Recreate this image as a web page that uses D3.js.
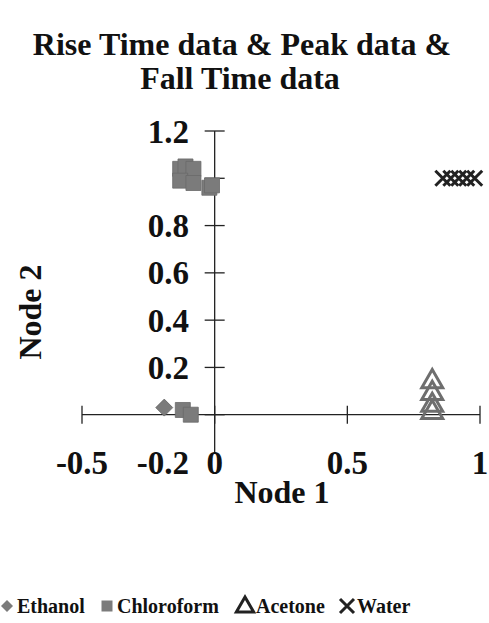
<!DOCTYPE html>
<html>
<head>
<meta charset="utf-8">
<script src="https://cdn.jsdelivr.net/npm/d3@7"></script>
<style>
  html, body { margin: 0; padding: 0; background: #fff; }
  svg { display: block; }
  text { font-family: "Liberation Serif", "Times New Roman", serif; font-weight: bold; fill: #111; }
</style>
</head>
<body>
<svg id="chart" width="489" height="623"></svg>
<script>
// Scatter of node outputs for each solvent (Node 1 vs Node 2)
const ethanolX = [-0.19];
const ethanolY = [0.03];
const chloroformX = [-0.13, -0.11, -0.08, -0.13, -0.08, -0.02, -0.01, -0.12, -0.09];
const chloroformY = [1.04, 1.05, 1.04, 0.99, 0.98, 0.96, 0.97, 0.02, 0.0];
const acetoneX = [0.82, 0.82, 0.82, 0.82];
const acetoneY = [0.14, 0.09, 0.04, 0.01];
const waterX = [0.86, 0.89, 0.92, 0.95, 0.98];
const waterY = [1.0, 1.0, 1.0, 1.0, 1.0];

const xTicks = [-0.5, 0, 0.5, 1];
const xTickLabels = ["-0.5", "0", "0.5", "1"];
const yTicks = [-0.2, 0, 0.2, 0.4, 0.6, 0.8, 1.0, 1.2];
const yTickLabels = ["-0.2", "", "0.2", "0.4", "0.6", "0.8", "", "1.2"];
const seriesNames = ["Ethanol", "Chloroform", "Acetone", "Water"];

const svg = d3.select("#chart");
const x = d3.scaleLinear().domain([-0.5, 1]).range([82, 480]);
const y = d3.scaleLinear().domain([-0.2, 1.2]).range([462, 131]);
const markColor = "#7b7b7b";

// Marker shapes
const diamondPath = s => `M0,${-s}L${s},0L0,${s}L${-s},0Z`;
const squarePath = s => `M${-s},${-s}H${s}V${s}H${-s}Z`;
const crossPath = s => `M${-s},${-s}L${s},${s}M${-s},${s}L${s},${-s}`;

// Title
const title = svg.append("text").attr("text-anchor", "middle").attr("font-size", 32);
title.append("tspan").attr("x", 242).attr("y", 55).text("Rise Time data & Peak data &");
title.append("tspan").attr("x", 240).attr("y", 89).text("Fall Time data");

// Axes crossing at the origin
const axisG = svg.append("g").attr("stroke", "#222").attr("stroke-width", 1.3);
axisG.append("line").attr("x1", x(-0.5)).attr("x2", x(1)).attr("y1", y(0)).attr("y2", y(0));
axisG.append("line").attr("x1", x(0)).attr("x2", x(0)).attr("y1", y(1.2)).attr("y2", y(-0.2) - 8);
axisG.selectAll(".xt").data(xTicks).join("line")
  .attr("x1", d => x(d)).attr("x2", d => x(d))
  .attr("y1", y(0) - 9).attr("y2", y(0) + 9);
axisG.selectAll(".yt").data(yTicks.filter(d => d >= 0)).join("line")
  .attr("x1", x(0) - 10).attr("x2", x(0) + 10)
  .attr("y1", d => y(d)).attr("y2", d => y(d));

// Tick labels
svg.selectAll(".xl").data(xTicks).join("text")
  .attr("x", d => x(d)).attr("y", 474)
  .attr("text-anchor", "middle").attr("font-size", 33)
  .text((d, i) => xTickLabels[i]);
svg.selectAll(".yl").data(yTicks).join("text")
  .attr("x", 189).attr("y", d => d === -0.2 ? 474 : y(d)).attr("dy", d => d === -0.2 ? 0 : "0.35em")
  .attr("text-anchor", "end").attr("font-size", 33)
  .text((d, i) => yTickLabels[i]);

// Axis titles
svg.append("text").attr("x", 282).attr("y", 503).attr("text-anchor", "middle")
  .attr("font-size", 32).text("Node 1");
svg.append("text").attr("transform", "translate(41,312) rotate(-90)")
  .attr("text-anchor", "middle").attr("font-size", 32).text("Node 2");

// Markers
const marks = svg.append("g");
marks.selectAll(".eth").data(ethanolX.map((v, i) => [v, ethanolY[i]])).join("path")
  .attr("transform", d => `translate(${x(d[0])},${y(d[1])})`)
  .attr("d", diamondPath(8.5)).attr("fill", markColor).attr("stroke", "#666").attr("stroke-width", 0.8);
marks.selectAll(".chl").data(chloroformX.map((v, i) => [v, chloroformY[i]])).join("path")
  .attr("transform", d => `translate(${x(d[0])},${y(d[1])})`)
  .attr("d", squarePath(7.5)).attr("fill", markColor).attr("stroke", "#6a6a6a").attr("stroke-width", 0.8);
marks.selectAll(".ace").data(acetoneX.map((v, i) => [v, acetoneY[i]])).join("path")
  .attr("transform", d => `translate(${x(d[0])},${y(d[1])})`)
  .attr("d", d3.symbol().type(d3.symbolTriangle).size(190)).attr("fill", "none")
  .attr("stroke", "#6e6e6e").attr("stroke-width", 3);
marks.selectAll(".wat").data(waterX.map((v, i) => [v, waterY[i]])).join("path")
  .attr("transform", d => `translate(${x(d[0])},${y(d[1])})`)
  .attr("d", crossPath(7.5)).attr("stroke", "#222").attr("stroke-width", 3);

// Legend
const legend = svg.append("g").attr("transform", "translate(0,613)");
const legendItems = [
  { name: seriesNames[0], text: 17 },
  { name: seriesNames[1], text: 117 },
  { name: seriesNames[2], text: 256 },
  { name: seriesNames[3], text: 357 }
];
legend.selectAll("text").data(legendItems).join("text")
  .attr("x", d => d.text).attr("y", 0).attr("font-size", 20).text(d => d.name);
legend.append("path").attr("transform", "translate(7,-7)")
  .attr("d", diamondPath(6)).attr("fill", markColor);
legend.append("path").attr("transform", "translate(107,-7)")
  .attr("d", squarePath(5.5)).attr("fill", markColor);
legend.append("path").attr("transform", "translate(245,-6)")
  .attr("d", d3.symbol().type(d3.symbolTriangle).size(130)).attr("fill", "none")
  .attr("stroke", "#222").attr("stroke-width", 3);
legend.append("path").attr("transform", "translate(347,-7)")
  .attr("d", crossPath(7)).attr("stroke", "#222").attr("stroke-width", 3);
</script>
</body>
</html>
